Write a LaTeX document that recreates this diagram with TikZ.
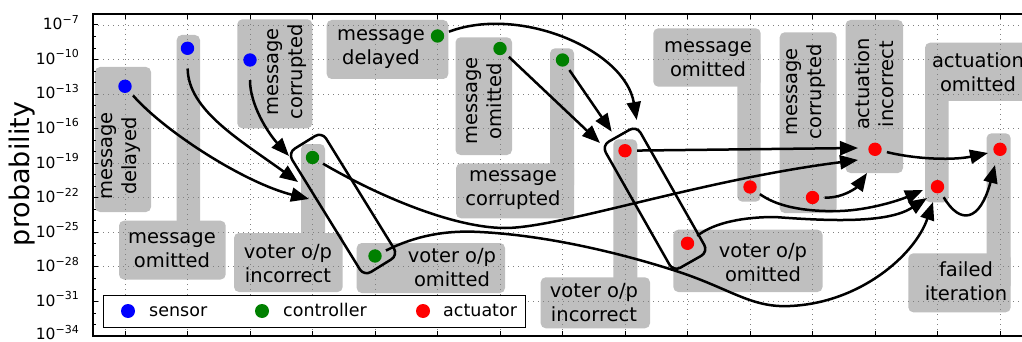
\documentclass[tikz,border=0pt]{standalone}
\usepackage{fontspec}
\setmainfont{DejaVu Sans}
\usetikzlibrary{arrows.meta}
\definecolor{boxgray}{RGB}{191,191,191}
\definecolor{dotblue}{RGB}{0,0,255}
\definecolor{dotgreen}{RGB}{0,128,0}
\definecolor{dotred}{RGB}{255,0,0}
\newcommand\labelsize{\fontsize{19.5}{24}\selectfont}
\newcommand\ticksize{\fontsize{15.5}{16}\selectfont}
\newcommand\supsize{\fontsize{11}{11}\selectfont}
\newcommand\legendsize{\fontsize{17.5}{20}\selectfont}
\begin{document}
\begin{tikzpicture}[x=1pt,y=-1pt,
  greybox/.style={fill=boxgray, rounded corners=5pt},
  gridline/.style={black!50, line width=0.9pt, dash pattern=on 1pt off 4pt},
  lbl/.style={font=\labelsize, align=center, inner sep=0pt},
  vlbl/.style={lbl, rotate=90},
  dot/.style={circle, inner sep=0pt, minimum size=13.4pt, outer sep=5.5pt},
  arr/.style={line width=2.5pt, -{Triangle[length=18pt,width=14pt]}},
  grp/.style={draw, line width=2.5pt, rounded corners=8pt, inner sep=0pt,
              minimum width=145pt, minimum height=40pt},
  tick/.style={line width=1pt},
  ticklabel/.style={anchor=base east, font=\ticksize, inner sep=0pt},
]
\useasboundingbox (0,0) rectangle (1022,342);
\clip (0,0) rectangle (1022,342);

% shaded label areas (bars joined to their label boxes)
\fill[greybox] (95,67) rectangle (151,212);
\fill[greybox] (176.7,35) rectangle (200,250);
\fill[greybox] (119,220.7) rectangle (225.7,279.5);
\fill[greybox] (237.3,19.3) rectangle (312.3,128.3);
\fill[greybox] (301,144) rectangle (325,260);
\fill[greybox] (234,233) rectangle (342.7,292);
\fill[greybox] (326.7,20) rectangle (448.3,79);
\fill[greybox] (356.7,243) rectangle (505,293);
\fill[greybox] (455.5,37.3) rectangle (512,155);
\fill[greybox] (550,48.3) rectangle (574,190);
\fill[greybox] (456,163.3) rectangle (574,218.3);
\fill[greybox] (613.3,139.3) rectangle (637.3,300);
\fill[greybox] (540.7,277.3) rectangle (650,328.3);
\fill[greybox] (673.3,229.7) rectangle (822.5,292);
\fill[greybox] (653.3,28.3) rectangle (760.7,86.7);
\fill[greybox] (737.3,50) rectangle (760.7,201.7);
\fill[greybox] (779.7,32.3) rectangle (836.7,213);
\fill[greybox] (845.5,20) rectangle (903,173);
\fill[greybox] (925,42.7) rectangle (1040,101);
\fill[greybox] (925,60) rectangle (948.7,202.3);
\fill[greybox] (986.5,133.3) rectangle (1010.7,290);
\fill[greybox] (908.3,253.3) rectangle (1010.7,312.3);

% dotted grid
\foreach \k in {0,...,14}
  \draw[gridline] ({125+62.5*\k},14) -- ({125+62.5*\k},336);
\foreach \d in {7,10,...,31}
  \draw[gridline] (93,{25+(\d-7)*11.52}) -- (1022,{25+(\d-7)*11.52});

% labels
\node[vlbl] (L1) at (121,156) {message\\delayed};
\node[lbl] (L2) at (172,250) {message\\omitted};
\node[vlbl] (L3) at (287,72) {message\\corrupted};
\node[lbl] (L4) at (288,264) {voter o/p\\incorrect};
\node[lbl] (L5) at (381,49) {message\\delayed};
\node[lbl] (L6) at (452,268) {voter o/p\\omitted};
\node[vlbl] (L7) at (484,101) {message\\omitted};
\node[lbl] (L8) at (513,190) {message\\corrupted};
\node[lbl] (L9) at (594,303) {voter o/p\\incorrect};
\node[lbl] (L10) at (763,263) {voter o/p\\omitted};
\node[lbl] (L11) at (708,59) {message\\omitted};
\node[vlbl] (L12) at (806,92) {message\\corrupted};
\node[vlbl] (L13) at (874,84) {actuation\\incorrect};
\node[lbl] (L14) at (978,72) {actuation\\omitted};
\node[lbl] (L15) at (966,281) {failed\\iteration};

% voter groupings
\node[grp, rotate=-58.3] (vote1) at (343,204) {};
\node[grp, rotate=-60.4] (vote2) at (655,198.7) {};

% event points
\node[dot, fill=dotblue] (b1) at (125,86.3) {};
\node[dot, fill=dotblue] (b2) at (187.5,48.3) {};
\node[dot, fill=dotblue] (b3) at (250,60) {};
\node[dot, fill=dotgreen] (g4) at (312.5,157.5) {};
\node[dot, fill=dotgreen] (g5) at (437.5,36) {};
\node[dot, fill=dotgreen] (g6) at (375,256) {};
\node[dot, fill=dotgreen] (g7) at (500,48.5) {};
\node[dot, fill=dotgreen] (g8) at (562.5,60) {};
\node[dot, fill=dotred] (r9) at (625,150.7) {};
\node[dot, fill=dotred] (r10) at (687.5,243.3) {};
\node[dot, fill=dotred] (r11) at (750,187) {};
\node[dot, fill=dotred] (r12) at (812.5,197.5) {};
\node[dot, fill=dotred] (r13) at (875,149.3) {};
\node[dot, fill=dotred] (r14) at (937.5,186.7) {};
\node[dot, fill=dotred] (r15) at (1000,149.3) {};

% arrow tips
\coordinate (t1) at (309,199);
\coordinate (t2) at (298,182);
\coordinate (t3) at (289,156);
\coordinate (t4) at (858,160);
\coordinate (t5) at (933,202);
\coordinate (t6) at (927,198);
\coordinate (t7) at (923,190);
\coordinate (t8) at (867,173);
\coordinate (t9) at (858,148);
\coordinate (t10) at (988,153);
\coordinate (t11) at (995,165);
\coordinate (t12) at (600,143);
\coordinate (t13) at (611.7,131.7);
\coordinate (t14) at (636.7,120);

% propagation arrows
\draw[arr] (b1) .. controls (165,132) and (245,183) .. (t1);
\draw[arr, shorten <=8pt] (b2) .. controls (188,110) and (240,140) .. (t2);
\draw[arr, shorten <=8pt] (b3) .. controls (250,105) and (268,133) .. (t3);
\draw[arr] (g4) .. controls (380,197) and (455,228) .. (505,228)
               .. controls (560,228) and (700,180) .. (t4);
\draw[arr] (g6) .. controls (415,236) and (445,230) .. (480,232)
               .. controls (540,235) and (610,250) .. (673,270)
               .. controls (730,288) and (750,308) .. (790,306)
               .. controls (860,303) and (915,255) .. (t5);
\draw[arr] (r10) .. controls (715,222) and (745,217) .. (775,217)
                .. controls (840,222) and (890,222) .. (t6);
\draw[arr] (r11) .. controls (775,205) and (800,212) .. (840,211)
                .. controls (870,210) and (900,200) .. (t7);
\draw[arr] (r12) .. controls (845,198) and (858,186) .. (t8);
\draw[arr] (r9) -- (t9);
\draw[arr] (r13) .. controls (920,160) and (955,160) .. (t10);
\draw[arr] (r14) .. controls (960,225) and (980,222) .. (t11);
\draw[arr] (g7) -- (t12);
\draw[arr] (g8) -- (t13);
\draw[arr] (g5) .. controls (520,5) and (625,50) .. (t14);

% legend
\node[draw, fill=white, line width=1pt, inner sep=0pt, anchor=north west,
      minimum width=422.3pt, minimum height=32.3pt] (legend) at (102.7,295) {};
\node[dot, fill=dotblue, minimum size=14pt] (lb) at (128,311) {};
\node[anchor=base west, font=\legendsize, inner sep=0pt] (ls) at (149,316) {sensor};
\node[dot, fill=dotgreen, minimum size=14pt] (lg) at (262,311) {};
\node[anchor=base west, font=\legendsize, inner sep=0pt] (lc) at (283,316) {controller};
\node[dot, fill=dotred, minimum size=14pt] (lr) at (423,311) {};
\node[anchor=base west, font=\legendsize, inner sep=0pt] (la) at (443,316) {actuator};

% axes frame and ticks
\draw[line width=1.2pt] (1022,14) -- (93,14) -- (93,336) -- (1022,336);
\foreach \k in {0,...,14} {
  \draw[tick] ({125+62.5*\k},14) -- ({125+62.5*\k},19);
  \draw[tick] ({125+62.5*\k},336) -- ({125+62.5*\k},331);
}
\foreach \d in {7,...,34}
  \draw[tick] (93,{25+(\d-7)*11.52}) -- (96,{25+(\d-7)*11.52});
\foreach \d in {7,10,...,31} {
  \draw[tick] (93,{25+(\d-7)*11.52}) -- (98,{25+(\d-7)*11.52});
  \node[ticklabel] (ytick\d) at (79,{25+(\d-7)*11.52+4.8}) {10\raisebox{6.5pt}{\supsize −\d}};
}
\node[ticklabel] (ytick34) at (79,339.5) {10\raisebox{6.5pt}{\supsize −34}};
\node[rotate=90, font=\fontsize{27}{27}\selectfont, inner sep=0pt] (ylab) at (22.5,174) {probability};
\end{tikzpicture}
\end{document}
